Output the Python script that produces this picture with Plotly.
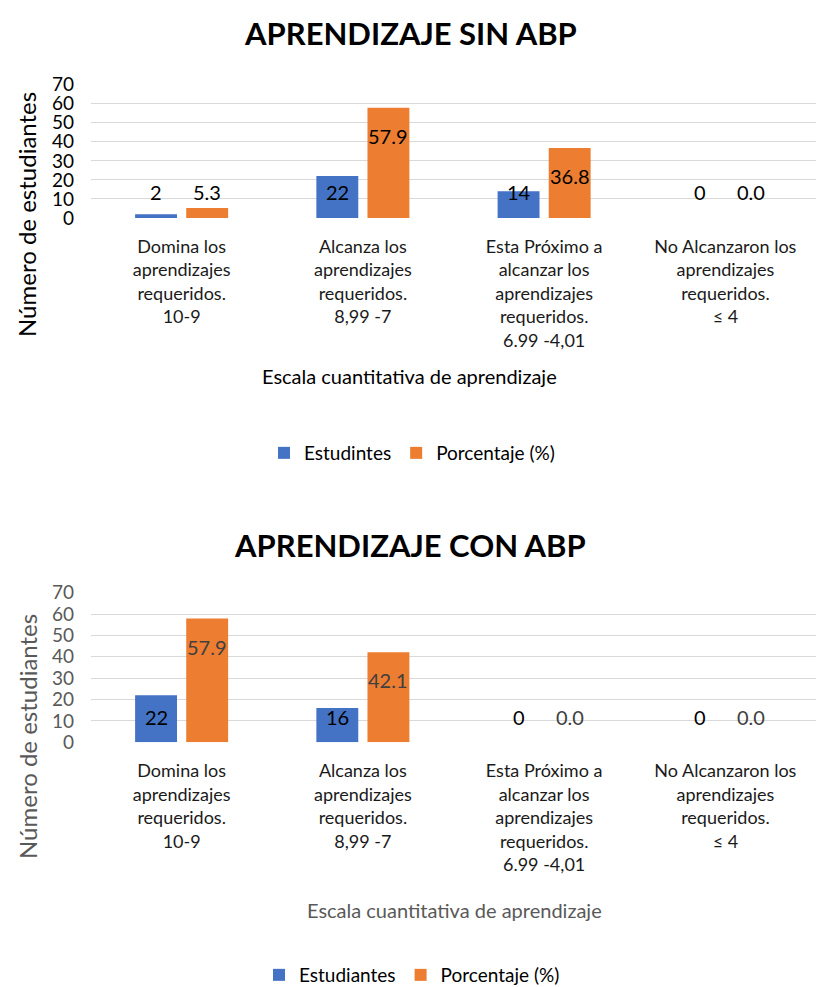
import plotly.graph_objects as go

# ---------------- data ----------------
categories = [
    "Domina los<br>aprendizajes<br>requeridos.<br>10-9",
    "Alcanza los<br>aprendizajes<br>requeridos.<br>8,99 -7",
    "Esta Próximo a<br>alcanzar los<br>aprendizajes<br>requeridos.<br>6.99 -4,01",
    "No Alcanzaron los<br>aprendizajes<br>requeridos.<br>≤ 4",
]
sin_estudiantes = [2, 22, 14, 0]
sin_porcentaje = [5.3, 57.9, 36.8, 0.0]
con_estudiantes = [22, 16, 0, 0]
con_porcentaje = [57.9, 42.1, 0.0, 0.0]
y_ticks = [0, 10, 20, 30, 40, 50, 60, 70]

title_sin = "APRENDIZAJE SIN ABP"
title_con = "APRENDIZAJE CON ABP"
x_title = "Escala cuantitativa de aprendizaje"
y_title = "Número de estudiantes"
legend_sin = ["Estudintes", "Porcentaje (%)"]
legend_con = ["Estudiantes", "Porcentaje (%)"]

# ---------------- layout geometry ----------------
W, H = 816, 987
FONT = "Lato"
BLUE = "#4472C4"
ORANGE = "#ED7D31"
GRID = "#D9D9D9"
x_left, x_right = 91, 816
top1, bot1 = 84.7, 218.0
top2, bot2 = 592.7, 742.3
BARGAP = 0.436
BARGROUPGAP = 0.18
YMAX = 70


def py(px):
    return 1 - px / H


fig = go.Figure()

bar_style = dict(marker_line_width=0, hoverinfo="skip")
fig.add_trace(go.Bar(x=categories, y=sin_estudiantes, name=legend_sin[0],
                     marker_color=BLUE, xaxis="x", yaxis="y", legend="legend", **bar_style))
fig.add_trace(go.Bar(x=categories, y=sin_porcentaje, name=legend_sin[1],
                     marker_color=ORANGE, xaxis="x", yaxis="y", legend="legend", **bar_style))
fig.add_trace(go.Bar(x=categories, y=con_estudiantes, name=legend_con[0],
                     marker_color=BLUE, xaxis="x2", yaxis="y2", legend="legend2", **bar_style))
fig.add_trace(go.Bar(x=categories, y=con_porcentaje, name=legend_con[1],
                     marker_color=ORANGE, xaxis="x2", yaxis="y2", legend="legend2", **bar_style))

cat_w = (x_right - x_left) / len(categories)
slot = cat_w * (1 - BARGAP) / 2
xoff = slot / 2

annotations = []


def bar_labels(values, fmt, sign, xref, yref, top, bot, color):
    ppu = (bot - top) / YMAX
    for c, v in zip(categories, values):
        hpx = max(v * ppu - 28, 25.7)
        annotations.append(dict(
            x=c, y=0, xref=xref, yref=yref, text=fmt.format(v),
            showarrow=False, xshift=sign * xoff, yshift=hpx,
            yanchor="middle", xanchor="center",
            font=dict(family=FONT, size=20, color=color)))


bar_labels(sin_estudiantes, "{:d}", -1, "x", "y", top1, bot1, "#000000")
bar_labels(sin_porcentaje, "{:.1f}", 1, "x", "y", top1, bot1, "#000000")
bar_labels(con_estudiantes, "{:d}", -1, "x2", "y2", top2, bot2, "#000000")
bar_labels(con_porcentaje, "{:.1f}", 1, "x2", "y2", top2, bot2, "#404040")

# titles
annotations += [
    dict(x=410 / W, y=py(33), xref="paper", yref="paper", text="<b>%s</b>" % title_sin,
         showarrow=False, xanchor="center", yanchor="middle",
         font=dict(family=FONT, size=31, color="#000000")),
    dict(x=410 / W, y=py(545), xref="paper", yref="paper", text="<b>%s</b>" % title_con,
         showarrow=False, xanchor="center", yanchor="middle",
         font=dict(family=FONT, size=31, color="#000000")),
    dict(x=409 / W, y=py(376), xref="paper", yref="paper", text=x_title,
         showarrow=False, xanchor="center", yanchor="middle",
         font=dict(family=FONT, size=20, color="#000000")),
    dict(x=454 / W, y=py(910), xref="paper", yref="paper", text=x_title,
         showarrow=False, xanchor="center", yanchor="middle",
         font=dict(family=FONT, size=20, color="#595959")),
    dict(x=27 / W, y=py(215), xref="paper", yref="paper", text=y_title,
         showarrow=False, xanchor="center", yanchor="middle", textangle=-90,
         font=dict(family=FONT, size=24, color="#000000")),
    dict(x=27 / W, y=py(737), xref="paper", yref="paper", text=y_title,
         showarrow=False, xanchor="center", yanchor="middle", textangle=-90,
         font=dict(family=FONT, size=24, color="#595959")),
]

xcommon = dict(domain=[x_left / W, x_right / W], showgrid=False, showline=False,
               ticks="", ticklabelstandoff=16, tickfont=dict(family=FONT, size=18, color="#1a1a1a"),
               fixedrange=True)
ycommon = dict(range=[0, YMAX], tickvals=y_ticks, showgrid=True, gridcolor=GRID, gridwidth=1.4,
               zeroline=False, showline=False, ticks="", ticklabelstandoff=16, fixedrange=True)

fig.update_layout(
    width=W, height=H,
    margin=dict(l=0, r=0, t=0, b=0, autoexpand=False),
    paper_bgcolor="white", plot_bgcolor="white",
    barmode="group", bargap=BARGAP, bargroupgap=BARGROUPGAP,
    font=dict(family=FONT),
    hovermode=False,
    xaxis=dict(anchor="y", **xcommon),
    yaxis=dict(anchor="x", domain=[py(bot1), py(top1)],
               tickfont=dict(family=FONT, size=19, color="#000000"), **ycommon),
    xaxis2=dict(anchor="y2", **xcommon),
    yaxis2=dict(anchor="x2", domain=[py(bot2), py(top2)],
                tickfont=dict(family=FONT, size=19, color="#595959"), **ycommon),
    legend=dict(orientation="h", x=412 / W, y=py(453), xanchor="center", yanchor="middle",
                font=dict(family=FONT, size=19, color="#000000"), itemwidth=30,
                traceorder="normal"),
    legend2=dict(orientation="h", x=412 / W, y=py(975), xanchor="center", yanchor="middle",
                 font=dict(family=FONT, size=19, color="#000000"), itemwidth=30,
                 traceorder="normal"),
    annotations=annotations,
    showlegend=True,
)

fig.write_html("out.html", config={"displayModeBar": False},
               post_script="document.body.style.margin='0';document.body.style.overflow='hidden';")
